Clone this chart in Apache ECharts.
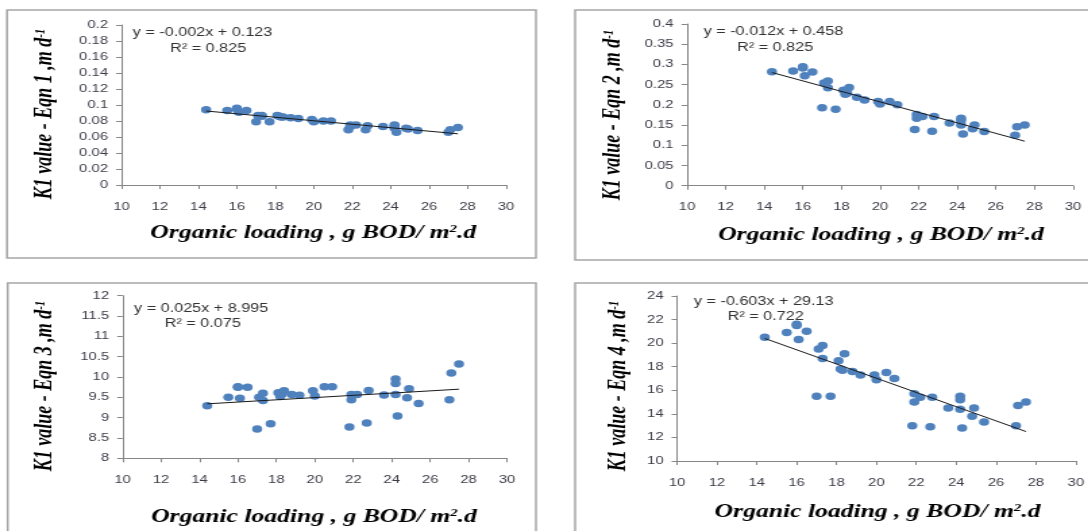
<!DOCTYPE html>
<html>
<head>
<meta charset="utf-8">
<title>K1 value vs organic loading</title>
<script src="https://cdn.jsdelivr.net/npm/echarts@6/dist/echarts.min.js"></script>
<style type="text/css">
    body, html { margin: 0; padding: 0; background: #fff; overflow: hidden; }
    /* the source figure is stretched sideways, so draw narrow and widen it */
    #chart {
        width: 806px;
        height: 531px;
        transform: scaleX(1.35);
        transform-origin: 0 0;
    }
</style>
</head>
<body>
<div id="chart"></div>
<script>
    // organic loading, g BOD/m2.d (same for all four panels)
    var loading = [14.4, 15.5, 16.0, 16.0, 16.1, 16.5, 17.0, 17.1, 17.3, 17.3, 17.7, 18.1, 18.2, 18.3, 18.4, 18.8, 19.2, 19.9, 20.0,
        20.5, 20.9, 21.8, 21.9, 21.9, 22.2, 22.7, 22.8, 23.6, 24.2, 24.2, 24.2, 24.3, 24.8, 24.9, 25.4, 27.0, 27.1, 27.5];

    var k1Eqn1 = [0.094, 0.093, 0.096, 0.095, 0.091, 0.093, 0.079, 0.087, 0.087, 0.086, 0.079, 0.087, 0.086, 0.085, 0.085, 0.084, 0.083,
        0.082, 0.079, 0.080, 0.080, 0.069, 0.075, 0.073, 0.075, 0.069, 0.074, 0.073, 0.075, 0.073, 0.071, 0.066, 0.071, 0.070, 0.068,
        0.066, 0.069, 0.072];
    var k1Eqn2 = [0.282, 0.284, 0.294, 0.291, 0.272, 0.281, 0.193, 0.254, 0.259, 0.242, 0.189, 0.236, 0.226, 0.229, 0.243, 0.219, 0.212,
        0.208, 0.202, 0.208, 0.200, 0.139, 0.176, 0.167, 0.171, 0.135, 0.171, 0.155, 0.167, 0.161, 0.150, 0.128, 0.141, 0.150, 0.134,
        0.125, 0.146, 0.150];
    var k1Eqn3 = [9.29, 9.50, 9.76, 9.75, 9.48, 9.75, 8.72, 9.50, 9.60, 9.42, 8.85, 9.61, 9.52, 9.58, 9.66, 9.57, 9.55, 9.66, 9.53,
        9.76, 9.76, 8.77, 9.57, 9.44, 9.57, 8.87, 9.67, 9.56, 9.95, 9.84, 9.57, 9.04, 9.49, 9.71, 9.35, 9.44, 10.10, 10.32];
    var k1Eqn4 = [20.5, 20.9, 21.6, 21.5, 20.3, 21.0, 15.5, 19.5, 19.8, 18.7, 15.5, 18.5, 17.8, 17.7, 19.1, 17.6, 17.3, 17.3, 16.9,
        17.5, 17.0, 13.0, 15.7, 15.0, 15.4, 12.9, 15.4, 14.5, 15.5, 15.2, 14.4, 12.8, 13.8, 14.5, 13.3, 13.0, 14.7, 15.0];

    // linear trendline ends as drawn: [x0, y0, x1, y1]
    var trend1 = [14.4, 0.0925, 27.5, 0.064];
    var trend2 = [14.4, 0.280, 27.5, 0.110];
    var trend3 = [14.4, 9.34, 27.5, 9.70];
    var trend4 = [14.4, 20.4, 27.5, 12.5];

    var eqnText = ['y = -0.002x + 0.123', 'y = -0.012x + 0.458', 'y = 0.025x + 8.995', 'y = -0.603x + 29.13'];
    var r2Text = ['R\u00b2 = 0.825', 'R\u00b2 = 0.825', 'R\u00b2 = 0.075', 'R\u00b2 = 0.722'];

    var yMin = [0, 0, 8, 10];
    var yMax = [0.2, 0.4, 12, 24];
    var yStep = [0.02, 0.05, 0.5, 2];
    var xMin = 10, xMax = 30, xStep = 2;

    var chart = echarts.init(document.getElementById('chart'));

    // panel layout in chart pixels (page x / 1.35)
    var panels = [
        {grid: [90, 25, 284.8, 160], frame: [5.2, 10, 391.8, 248], yName: [33.3, 114], xName: [232, 233], eq: [98.3, 33, 126, 49]},
        {grid: [508.9, 24, 285.9, 161.7], frame: [426, 10, 390, 250], yName: [454.8, 115], xName: [652.6, 235], eq: [521.2, 32, 546, 48]},
        {grid: [90.8, 295.7, 284.8, 162.6], frame: [5.7, 283, 391.3, 260], yName: [33.3, 386], xName: [232.6, 517], eq: [99.3, 309, 122, 324]},
        {grid: [501.5, 296, 296.3, 165], frame: [426, 283, 390, 260], yName: [458.5, 386], xName: [650, 512], eq: [514, 302, 539, 317]}
    ];

    var yData = [k1Eqn1, k1Eqn2, k1Eqn3, k1Eqn4];
    var trends = [trend1, trend2, trend3, trend4];

    var labelStyle = {fontFamily: 'Liberation Sans', fontSize: 11, color: '#3c3c48'};
    var titleFont = {fontFamily: 'Liberation Serif', fontWeight: 'bold', fontStyle: 'italic', fontSize: 18, fill: '#000'};
    var xTitleFont = {fontFamily: 'Liberation Serif', fontWeight: 'bold', fontStyle: 'italic', fontSize: 19, fill: '#000'};
    var supFont = {fontFamily: 'Liberation Serif', fontWeight: 'bold', fontStyle: 'italic', fontSize: 11, fill: '#000', verticalAlign: 'top'};

    var option = {
        backgroundColor: '#fff',
        animation: false,
        grid: [], xAxis: [], yAxis: [], series: [], graphic: []
    };

    panels.forEach(function (p, i) {
        option.grid.push({left: p.grid[0], top: p.grid[1], width: p.grid[2], height: p.grid[3]});
        option.xAxis.push({
            gridIndex: i, type: 'value', min: xMin, max: xMax, interval: xStep,
            axisLine: {show: true, lineStyle: {color: '#868686', width: 1}},
            axisTick: {show: true, length: 4, lineStyle: {color: '#868686'}},
            axisLabel: Object.assign({margin: 16}, labelStyle),
            splitLine: {show: false}
        });
        option.yAxis.push({
            gridIndex: i, type: 'value', min: yMin[i], max: yMax[i], interval: yStep[i],
            axisLine: {show: true, lineStyle: {color: '#868686', width: 1}},
            axisTick: {show: true, length: 4, lineStyle: {color: '#868686'}},
            axisLabel: Object.assign({margin: 10}, labelStyle),
            splitLine: {show: false}
        });

        var pts = loading.map(function (x, k) { return [x, yData[i][k]]; });
        option.series.push({
            type: 'scatter', xAxisIndex: i, yAxisIndex: i,
            data: pts, symbol: 'circle', symbolSize: 7.5,
            itemStyle: {color: '#4f81bd', opacity: 1}
        });
        var t = trends[i];
        option.series.push({
            type: 'line', xAxisIndex: i, yAxisIndex: i,
            data: [[t[0], t[1]], [t[2], t[3]]],
            symbol: 'none', lineStyle: {color: '#1a1a1a', width: 1}
        });

        // panel border
        option.graphic.push({
            type: 'rect', silent: true,
            shape: {x: p.frame[0], y: p.frame[1], width: p.frame[2], height: p.frame[3]},
            style: {fill: 'none', stroke: '#a6a6a6', lineWidth: 1.5}
        });
        // y axis title, reads bottom to top
        option.graphic.push({
            type: 'text', x: p.yName[0], y: p.yName[1], rotation: Math.PI / 2,
            style: {
                text: '{a|K1 value - Eqn ' + (i + 1) + ' ,m d}{s|-1}',
                align: 'center', verticalAlign: 'middle',
                rich: {a: titleFont, s: supFont}
            }
        });
        option.graphic.push({
            type: 'text', x: p.xName[0], y: p.xName[1],
            style: {
                text: '{a|Organic loading , g BOD/ m}{s|2}{a|.d}',
                align: 'center', verticalAlign: 'middle',
                rich: {a: xTitleFont, s: supFont}
            }
        });
        // trendline equation
        option.graphic.push({
            type: 'text', x: p.eq[0], y: p.eq[1],
            style: {text: eqnText[i], font: '12px "Liberation Sans"', fill: '#333', verticalAlign: 'middle'}
        });
        option.graphic.push({
            type: 'text', x: p.eq[2], y: p.eq[3],
            style: {text: r2Text[i], font: '12px "Liberation Sans"', fill: '#333', verticalAlign: 'middle'}
        });
    });

    chart.setOption(option);
</script>
</body>
</html>
